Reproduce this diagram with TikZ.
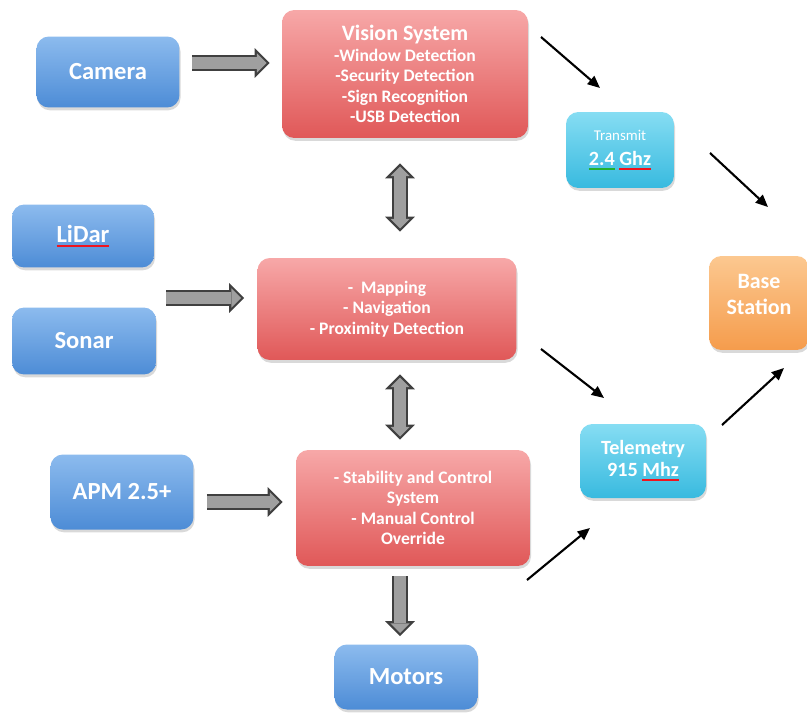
\documentclass[tikz,border=0pt]{standalone}
\usepackage{fontspec}
\setmainfont{Carlito}
\usetikzlibrary{arrows.meta,calc,shadows}

\definecolor{hwTop}{HTML}{8CBBEE}
\definecolor{hwBot}{HTML}{4D8CD6}
\definecolor{swTop}{HTML}{F7A8A8}
\definecolor{swBot}{HTML}{E05858}
\definecolor{rfTop}{HTML}{86DDF3}
\definecolor{rfBot}{HTML}{38BADF}
\definecolor{gsTop}{HTML}{FCC890}
\definecolor{gsBot}{HTML}{F59C4C}
\definecolor{typoRed}{HTML}{F0141E}
\definecolor{typoGreen}{HTML}{22B030}

\newcommand{\typo}[2][typoRed]{\setbox0\hbox{#2}\rlap{\textcolor{#1}{\rule[-2.6pt]{\wd0}{1.1pt}}}\box0\relax}

\begin{document}
\begin{tikzpicture}[x=0.02cm,y=-0.02cm]
\tikzset{box/.style = {shape=rectangle, rounded corners=7pt, text=white, align=center, inner sep=2pt,
  drop shadow={shadow xshift=0.6pt, shadow yshift=-1.6pt, opacity=0.3}}}
\tikzset{hw/.style = {box, top color=hwTop, bottom color=hwBot, font=\fontsize{14}{16}\selectfont\bfseries}}
\tikzset{task/.style = {box, top color=swTop, bottom color=swBot, font=\fontsize{10}{11.6}\selectfont\bfseries}}
\tikzset{radio/.style = {box, top color=rfTop, bottom color=rfBot, font=\fontsize{11.5}{12.5}\selectfont\bfseries}}
\tikzset{ground/.style = {box, top color=gsTop, bottom color=gsBot, font=\fontsize{12.5}{14.7}\selectfont\bfseries}}
\tikzset{link/.style = {-{Triangle[length=7pt,width=6pt]}, line width=1.2pt}}
\tikzset{bigtip/.tip = {Triangle[length=8.5pt,width=17pt,line width=0pt]}}
\tikzset{smalltip/.tip = {Triangle[length=5.5pt,width=11pt,line width=0pt]}}
\tikzset{block/.style = {draw=black!75, line width=9.5pt, -bigtip,
  postaction={draw=gray!75, line width=7pt, shorten >=1.8pt, -smalltip}}}
\tikzset{dblock/.style = {draw=black!75, line width=9.5pt, bigtip-bigtip,
  postaction={draw=gray!75, line width=7pt, shorten >=1.8pt, shorten <=1.8pt, smalltip-smalltip}}}

\useasboundingbox (0,0) rectangle (807,713);

\node[hw, minimum width=2.86cm, minimum height=1.42cm] (cam) at (108,72) {Camera};
\node[hw, minimum width=2.84cm, minimum height=1.26cm] (lidar) at (83,236) {\typo{LiDar}};
\node[hw, minimum width=2.88cm, minimum height=1.34cm] (sonar) at (84,341) {Sonar};
\node[hw, minimum width=2.86cm, minimum height=1.50cm] (apm) at (122,492) {APM 2.5+};
\node[hw, minimum width=2.86cm, minimum height=1.30cm] (motors) at (406,677) {Motors};

\node[task, minimum width=4.92cm, minimum height=2.56cm] (vision) at (405,74)
  {{\fontsize{12.5}{14}\selectfont Vision System}\\-Window Detection\\-Security Detection\\-Sign Recognition\\-USB Detection};
\node[task, minimum width=5.18cm, minimum height=2.04cm] (nav) at (387,309)
  {-\ \ Mapping\\- Navigation\\- Proximity Detection};
\node[task, minimum width=4.68cm, minimum height=2.32cm] (ctrl) at (413,508)
  {- Stability and Control\\System\\- Manual Control\\Override};

\node[radio, minimum width=2.16cm, minimum height=1.52cm] (tx) at (620,150)
  {{\fontsize{8.5}{10}\selectfont\mdseries Transmit}\\[2pt]\typo[typoGreen]{2.4} \typo{Ghz}};
\node[radio, minimum width=2.52cm, minimum height=1.48cm] (tel) at (643,461)
  {Telemetry\\915 \typo{Mhz}};
\node[ground, minimum width=2.0cm, minimum height=1.88cm] (base) at (759,303) {Base\\Station\\[-4.7pt]};

\coordinate (sens) at (166,298);
\draw[block] ($(cam.east)+(12,-9)$) -- ($(vision.west)+(-12,-11)$);
\draw[block] (sens) -- ($(nav.west)+(-13,-11)$);
\draw[block] ($(apm.east)+(13,10)$) -- ($(ctrl.west)+(-13,-6)$);
\draw[dblock] ($(vision.south)+(-5,25)$) -- ($(nav.north)+(13,-26)$);
\draw[dblock] ($(nav.south)+(13,14)$) -- ($(ctrl.north)+(-13,-10)$);
\draw[block] ($(ctrl.south)+(-13,10)$) -- ($(motors.north)+(-6,-8)$);

\coordinate (v1) at (541,37);
\coordinate (v2) at (600,88);
\coordinate (t1) at (710,153);
\coordinate (t2) at (768,207);
\coordinate (n1) at (541,349);
\coordinate (n2) at (604,398);
\coordinate (c1) at (527,580);
\coordinate (c2) at (590,528);
\coordinate (m1) at (722,425);
\coordinate (m2) at (784,368);
\draw[link] (v1) -- (v2);
\draw[link] (t1) -- (t2);
\draw[link] (n1) -- (n2);
\draw[link] (c1) -- (c2);
\draw[link] (m1) -- (m2);

\end{tikzpicture}
\end{document}
